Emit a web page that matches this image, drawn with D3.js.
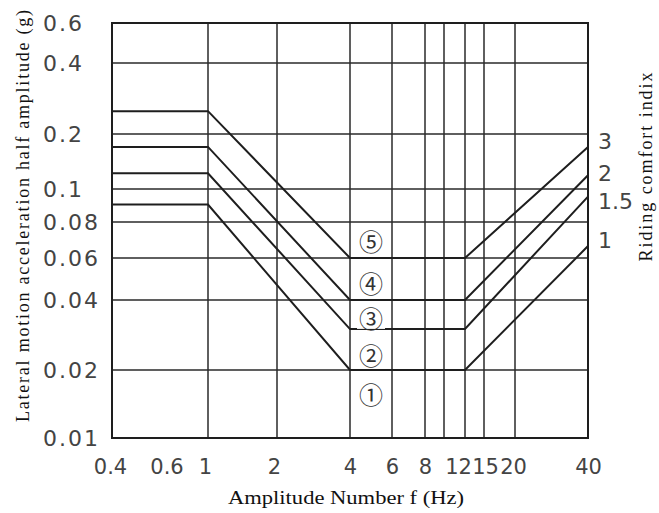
<!DOCTYPE html>
<html>
<head>
<meta charset="utf-8">
<script src="https://cdn.jsdelivr.net/npm/d3@7/dist/d3.min.js"></script>
<style>
  html, body { margin: 0; padding: 0; background: #fff; }
  svg { display: block; }
</style>
</head>
<body>
<svg id="chart" width="659" height="513"></svg>
<script>
// ---------------- data ----------------
const freqKnots = [0.4, 1, 4, 12, 40];              // Hz, break points of each limit curve
const comfortIndex = ["3", "2", "1.5", "1"];        // riding comfort index of each curve
const curve3   = [0.25,  0.25,  0.06, 0.06, 0.17];
const curve2   = [0.17,  0.17,  0.04, 0.04, 0.119];
const curve1_5 = [0.122, 0.122, 0.03, 0.03, 0.095];
const curve1   = [0.09,  0.09,  0.02, 0.02, 0.066];
const indexLabelAt = [0.183, 0.122, 0.092, 0.069];  // g value where each index label sits (at 40 Hz)

const zoneLabels = ["⑤", "④", "③", "②", "①"];
const zoneFreq = 4.9;
const zoneValues = [0.069, 0.0475, 0.0335, 0.0234, 0.0158];

const xTickValues = [0.4, 0.6, 1, 2, 4, 6, 8, 12, 15, 20, 40];
const xGridValues = [1, 2, 4, 6, 8, 10, 12, 15, 20];
const yTickValues = [0.6, 0.4, 0.2, 0.1, 0.08, 0.06, 0.04, 0.02, 0.01];
const yGridValues = [0.4, 0.2, 0.1, 0.08, 0.06, 0.04, 0.02];

const xTitle = "Amplitude Number f (Hz)";
const yTitle = "Lateral motion acceleration half amplitude (g)";
const y2Title = "Riding comfort indix";

// ---------------- scales (piecewise log, following the hand-drawn grid) ----------------
const x = d3.scaleLog()
  .domain([0.4, 1, 2, 4, 6, 8, 10, 12, 15, 20, 40])
  .range([112, 208, 277, 350, 392, 425, 444, 465, 484, 515, 588]);
const y = d3.scaleLog()
  .domain([0.01, 0.02, 0.04, 0.06, 0.08, 0.1, 0.2, 0.4, 0.6])
  .range([438, 370, 300, 258, 222, 189, 134, 63, 23]);

const svg = d3.select("#chart");
const ink = "#1e1e1e";
const labelFont = "DejaVu Sans, sans-serif";
const serif = "Liberation Serif, Times New Roman, serif";

// ---------------- grid ----------------
const grid = svg.append("g").attr("stroke", "#2a2a2a").attr("stroke-width", 1.5);
grid.selectAll("line.v").data(xGridValues).join("line")
  .attr("class", "v")
  .attr("x1", d => x(d)).attr("x2", d => x(d))
  .attr("y1", y(0.6)).attr("y2", y(0.01));
grid.selectAll("line.h").data(yGridValues).join("line")
  .attr("class", "h")
  .attr("x1", x(0.4)).attr("x2", x(40))
  .attr("y1", d => y(d)).attr("y2", d => y(d));

// frame
svg.append("rect")
  .attr("x", x(0.4)).attr("y", y(0.6))
  .attr("width", x(40) - x(0.4)).attr("height", y(0.01) - y(0.6))
  .attr("fill", "none").attr("stroke", ink).attr("stroke-width", 2);

// ---------------- curves ----------------
const series = [curve3, curve2, curve1_5, curve1];
const line = d3.line().x((d, i) => x(freqKnots[i])).y(d => y(d));
svg.append("g").selectAll("path").data(series).join("path")
  .attr("d", d => line(d))
  .attr("fill", "none").attr("stroke", ink).attr("stroke-width", 2)
  .attr("stroke-linejoin", "miter");

// ---------------- zone labels ----------------
const zones = svg.append("g");
zones.selectAll("rect").data(zoneValues).join("rect")
  .attr("x", x(zoneFreq) - 14).attr("y", d => y(d) - 11)
  .attr("width", 28).attr("height", 22).attr("fill", "#fff");
zones.selectAll("text").data(zoneLabels).join("text")
  .attr("x", x(zoneFreq)).attr("y", (d, i) => y(zoneValues[i]))
  .attr("text-anchor", "middle").attr("dominant-baseline", "central")
  .attr("font-family", "Noto Sans CJK JP, DejaVu Sans, sans-serif")
  .attr("font-size", 24).attr("fill", "#333")
  .text(d => d);

// ---------------- axes ----------------
const xNudge = { 0.4: -2, 0.6: 12, 1: -3, 2: -3, 12: -7, 15: 1, 20: -2 };
const xAxis = svg.append("g").attr("transform", `translate(0,${y(0.01)})`)
  .call(d3.axisBottom(x).tickValues(xTickValues).tickSize(0).tickPadding(0)
    .tickFormat(d => String(d)));
xAxis.select(".domain").remove();
xAxis.selectAll("text")
  .attr("y", 36).attr("dy", 0)
  .attr("dx", d => (xNudge[d] || 0))
  .attr("font-family", labelFont).attr("font-size", 21)
  .attr("fill", "#444");

const yAxis = svg.append("g").attr("transform", `translate(${x(0.4)},0)`)
  .call(d3.axisLeft(y).tickValues(yTickValues).tickSize(0)
    .tickFormat(d => String(d)));
yAxis.select(".domain").remove();
yAxis.selectAll("text")
  .attr("x", 43 - x(0.4)).attr("text-anchor", "start")
  .attr("dy", "0.36em")
  .attr("font-family", labelFont).attr("font-size", 22)
  .attr("letter-spacing", 2).attr("fill", "#444");

// right-hand comfort index labels
svg.append("g").selectAll("text").data(comfortIndex).join("text")
  .attr("x", x(40) + 10).attr("y", (d, i) => y(indexLabelAt[i]))
  .attr("dy", "0.36em")
  .attr("font-family", labelFont).attr("font-size", 22)
  .attr("fill", "#444")
  .text(d => d);

// ---------------- titles ----------------
svg.append("text")
  .attr("x", 346).attr("y", 504)
  .attr("text-anchor", "middle")
  .attr("font-family", serif).attr("font-size", 19).attr("fill", "#111")
  .attr("textLength", 236).attr("lengthAdjust", "spacingAndGlyphs")
  .text(xTitle);

svg.append("text")
  .attr("transform", "translate(29,216) rotate(-90)")
  .attr("text-anchor", "middle")
  .attr("font-family", serif).attr("font-size", 18).attr("fill", "#111")
  .attr("textLength", 412).attr("lengthAdjust", "spacing")
  .text(yTitle);

svg.append("text")
  .attr("transform", "translate(652,167) rotate(-90)")
  .attr("text-anchor", "middle")
  .attr("font-family", serif).attr("font-size", 18).attr("fill", "#111")
  .attr("textLength", 189).attr("lengthAdjust", "spacing")
  .text(y2Title);
</script>
</body>
</html>
